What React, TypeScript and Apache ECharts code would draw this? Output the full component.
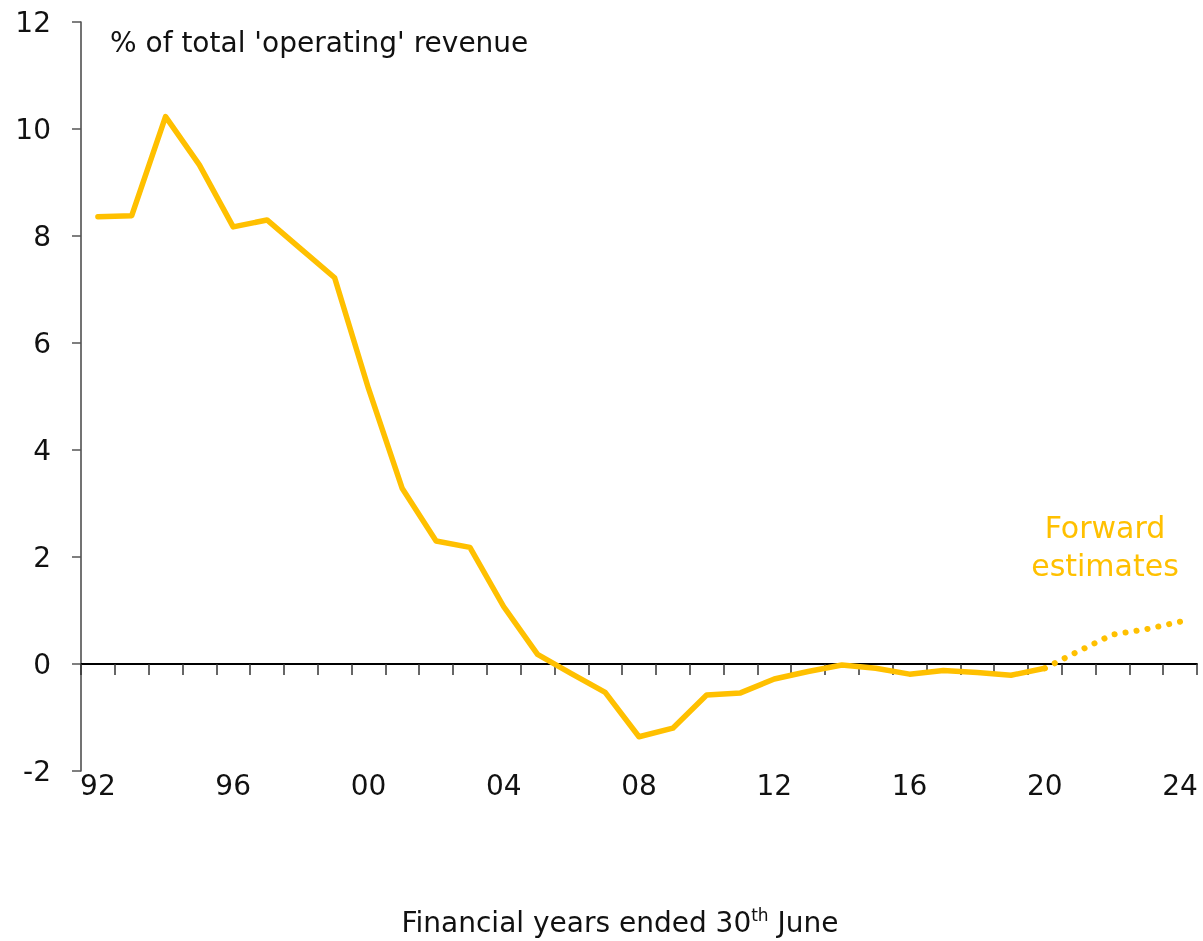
import React, { useEffect, useRef } from "react";
import * as echarts from "echarts";

const years = ["92","93","94","95","96","97","98","99","00","01","02","03","04","05","06","07","08","09","10","11","12","13","14","15","16","17","18","19","20","21","22","23","24"];
const actual = [8.36, 8.38, 10.23, 9.33, 8.17, 8.30, 7.76, 7.22, 5.15, 3.28, 2.30, 2.18, 1.07, 0.18, -0.18, -0.53, -1.36, -1.2, -0.58, -0.54, -0.28, -0.14, -0.02, -0.08, -0.19, -0.12, -0.16, -0.21, -0.08, null, null, null, null];
const forward = [null, null, null, null, null, null, null, null, null, null, null, null, null, null, null, null, null, null, null, null, null, null, null, null, null, null, null, null, -0.08, 0.24, 0.55, 0.65, 0.79];
const yTicks = { min: -2, max: 12, interval: 2 };

const FONT = "DejaVu Sans";
const GOLD = "#FFC000";

export default function App() {
  const ref = useRef<HTMLDivElement>(null);
  useEffect(() => {
    if (!ref.current) return;
    const chart = echarts.init(ref.current, null, { renderer: "svg" });
    chart.setOption({
      animation: false,
      textStyle: { fontFamily: FONT },
      grid: { left: 81, right: 6, top: 22, bottom: 170, containLabel: false },
      xAxis: [
        {
          type: "category",
          data: years,
          boundaryGap: true,
          axisLine: { show: true, onZero: true, lineStyle: { color: "#000", width: 1.8 } },
          axisTick: { show: true, interval: 0, length: 11, lineStyle: { color: "#333", width: 1.5 } },
          axisLabel: { show: false },
        },
        {
          type: "category",
          data: years,
          boundaryGap: true,
          position: "bottom",
          axisLine: { show: false, onZero: false },
          axisTick: { show: false },
          axisLabel: { show: true, interval: 3, margin: 0, fontSize: 28, color: "#111", fontFamily: FONT },
        },
      ],
      yAxis: {
        type: "value",
        min: yTicks.min,
        max: yTicks.max,
        interval: yTicks.interval,
        splitLine: { show: false },
        axisLine: { show: true, lineStyle: { color: "#444", width: 1.5 } },
        axisTick: { show: true, length: 9, lineStyle: { color: "#555", width: 1.5 } },
        axisLabel: { fontSize: 28, color: "#111", margin: 30, fontFamily: FONT },
      },
      series: [
        {
          type: "line",
          data: actual,
          xAxisIndex: 0,
          showSymbol: false,
          symbol: "none",
          lineStyle: { color: GOLD, width: 5.5, cap: "round", join: "round" },
        },
        {
          type: "line",
          data: forward,
          xAxisIndex: 0,
          showSymbol: false,
          symbol: "none",
          lineStyle: { color: GOLD, width: 6, type: [0.1, 11], cap: "round" },
        },
      ],
      graphic: [
        {
          type: "text",
          left: 110,
          top: 28,
          style: { text: "% of total 'operating' revenue", fontSize: 28, fill: "#111", fontFamily: FONT },
        },
        {
          type: "text",
          x: 1105,
          y: 508,
          style: {
            text: "Forward\nestimates",
            fontSize: 30,
            lineHeight: 38,
            fill: GOLD,
            align: "center",
            fontFamily: FONT,
          },
        },
        {
          type: "text",
          x: 620,
          y: 906,
          style: {
            text: "Financial years ended 30{sup|th} June",
            fontSize: 28,
            fill: "#111",
            align: "center",
            fontFamily: FONT,
            rich: {
              sup: { fontSize: 17, fill: "#111", fontFamily: FONT, verticalAlign: "top", lineHeight: 32, padding: [0, 0, 14, 0] },
            },
          },
        },
      ],
    });
    return () => chart.dispose();
  }, []);
  return <div ref={ref} style={{ position: "fixed", left: 0, top: 0, width: 1203, height: 941 }} />;
}
